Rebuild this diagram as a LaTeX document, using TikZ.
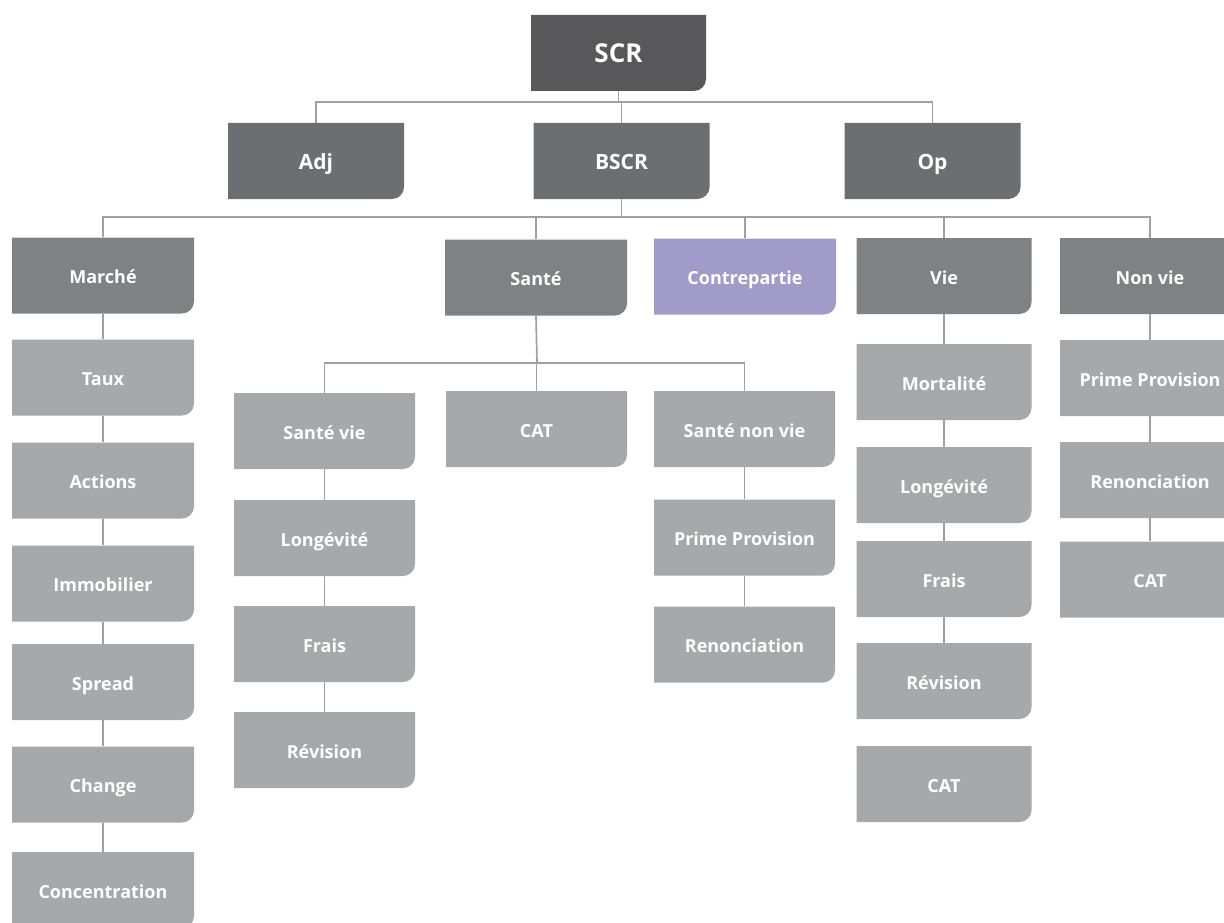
\documentclass[tikz,border=0pt]{standalone}
\usepackage{fontspec}
\setmainfont{Open Sans}
\definecolor{cTop}{HTML}{58585A}
\definecolor{cMid}{HTML}{6D6E71}
\definecolor{cSub}{HTML}{808184}
\definecolor{cLeaf}{HTML}{A7A8AB}
\definecolor{cCpt}{HTML}{A19BC9}
\definecolor{cLine}{HTML}{A0A0A2}
\begin{document}
\begin{tikzpicture}[x=1pt,y=-1pt,
  box/.style={rectangle, inner sep=0pt, text=white, minimum height=76pt,
    text height=16pt, text depth=0pt,
    font=\bfseries\fontsize{18}{21}\selectfont,
    path picture={\fill[#1] (path picture bounding box.north west)
      -- (path picture bounding box.north east)
      -- ([yshift=12pt]path picture bounding box.south east)
      arc[start angle=0, end angle=-90, radius=12pt]
      -- (path picture bounding box.south west) -- cycle;}},
  topbox/.style={box=cTop, minimum width=175pt, text height=20pt,
    font=\bfseries\fontsize{26}{30}\selectfont},
  midbox/.style={box=cMid, minimum width=176pt, text height=17pt,
    font=\bfseries\fontsize{21}{25}\selectfont},
  subbox/.style={box=cSub, minimum width=#1},
  leafbox/.style={box=cLeaf, minimum width=#1},
  link/.style={draw=cLine, line width=1.7pt}
]
\useasboundingbox (0,0) rectangle (1224,923);

% top levels
\node[topbox] (scr) at (618.5,53) {SCR};
\node[midbox] (adj) at (316,161) {Adj};
\node[midbox] (bscr) at (621.5,161) {BSCR};
\node[midbox] (op) at (932.5,161) {Op};

% risk modules
\node[subbox=182pt] (marche) at (103,275.5) {Marché};
\node[subbox=182pt] (sante) at (536,277.5) {Santé};
\node[box=cCpt, minimum width=182pt] (contre) at (745,276.5) {Contrepartie};
\node[subbox=175pt] (vie) at (944,276) {Vie};
\node[subbox=180pt] (nonvie) at (1150,276) {Non vie};

% market sub-modules
\node[leafbox=182pt] (taux) at (103,377.5) {Taux};
\node[leafbox=182pt] (actions) at (103,480.5) {Actions};
\node[leafbox=182pt] (immo) at (103,583.5) {Immobilier};
\node[leafbox=182pt] (spread) at (103,682) {Spread};
\node[leafbox=182pt] (change) at (103,784.5) {Change};
\node[leafbox=182pt] (conc) at (103,890) {Concentration};

% health sub-modules
\node[leafbox=181pt] (svie) at (324.5,431) {Santé vie};
\node[leafbox=181pt] (scat) at (536.5,429) {CAT};
\node[leafbox=181pt] (snvie) at (744.5,429) {Santé non vie};
\node[leafbox=181pt] (slong) at (324.5,538) {Longévité};
\node[leafbox=181pt] (sfrais) at (324.5,644) {Frais};
\node[leafbox=181pt] (srev) at (324.5,750) {Révision};
\node[leafbox=181pt] (sprime) at (744.5,537.5) {Prime Provision};
\node[leafbox=181pt] (sren) at (744.5,644.5) {Renonciation};

% life sub-modules
\node[leafbox=175pt] (vmort) at (944,382) {Mortalité};
\node[leafbox=175pt] (vlong) at (944,485) {Longévité};
\node[leafbox=175pt] (vfrais) at (944,579) {Frais};
\node[leafbox=175pt] (vrev) at (944,681) {Révision};
\node[leafbox=175pt] (vcat) at (944,784) {CAT};

% non-life sub-modules
\node[leafbox=180pt] (nprime) at (1150,378) {Prime Provision};
\node[leafbox=180pt] (nren) at (1150,480) {Renonciation};
\node[leafbox=180pt] (ncat) at (1150,579.5) {CAT};

% bus lines
\coordinate (bus1) at (618.5,102);
\coordinate (bus2) at (621.5,217);
\coordinate (bus3) at (537,363);

\draw[link] (scr.south) -- (bus1);
\draw[link] (adj.north) |- (bus1) -| (op.north);
\draw[link] (bscr.north) -- (bscr.north |- bus1);

\draw[link] (bscr.south) -- (bus2);
\draw[link] (marche.north) |- (bus2) -| (nonvie.north);
\draw[link] (sante.north) -- (sante.north |- bus2);
\draw[link] (contre.north) -- (contre.north |- bus2);
\draw[link] (vie.north) -- (vie.north |- bus2);

\draw[link] (sante.south) -- (bus3);
\draw[link] (svie.north) |- (bus3) -| (snvie.north);
\draw[link] (scat.north) -- (scat.north |- bus3);

% vertical chains
\draw[link] (marche) -- (taux) -- (actions) -- (immo) -- (spread) -- (change) -- (conc);
\draw[link] (svie) -- (slong) -- (sfrais) -- (srev);
\draw[link] (snvie) -- (sprime) -- (sren);
\draw[link] (vie) -- (vmort) -- (vlong) -- (vfrais) -- (vrev);
\draw[link] (nonvie) -- (nprime) -- (nren) -- (ncat);
\end{tikzpicture}
\end{document}
